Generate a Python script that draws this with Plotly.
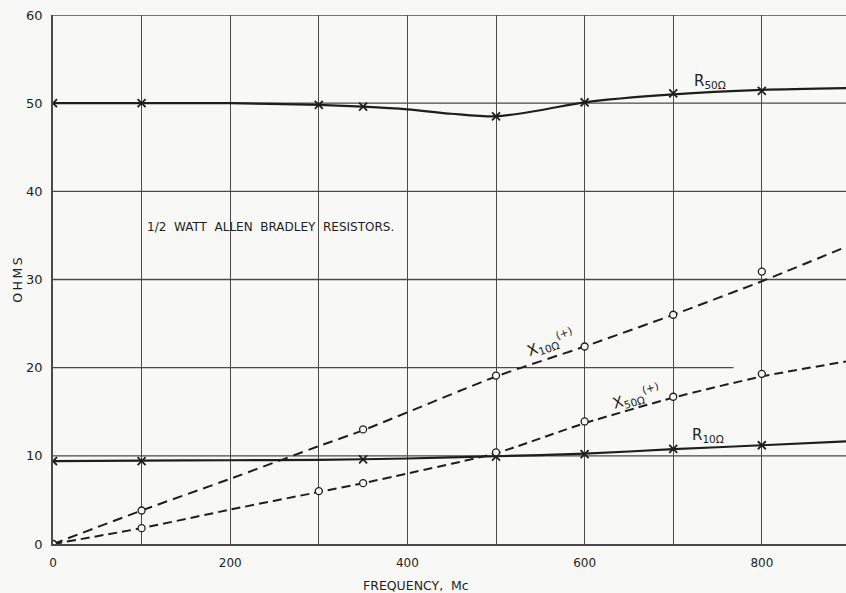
import plotly.graph_objects as go

# ---- data ----
freq_pts_r50 = [0, 100, 300, 350, 500, 600, 700, 800]
r50_pts = [50.0, 50.0, 49.8, 49.6, 48.5, 50.1, 51.1, 51.4]
freq_curve_r50 = [0, 100, 200, 300, 350, 400, 450, 500, 550, 600, 700, 800, 895]
r50_curve = [50.0, 50.0, 50.0, 49.8, 49.6, 49.3, 48.8, 48.5, 49.2, 50.1, 51.0, 51.5, 51.7]

freq_pts_r10 = [0, 100, 350, 500, 600, 700, 800]
r10_pts = [9.4, 9.4, 9.6, 9.9, 10.2, 10.8, 11.2]
freq_curve_r10 = [0, 100, 200, 300, 400, 500, 600, 700, 800, 895]
r10_curve = [9.4, 9.45, 9.5, 9.55, 9.7, 9.95, 10.25, 10.75, 11.2, 11.65]

freq_pts_x10 = [0, 100, 350, 500, 600, 700, 800]
x10_pts = [0.0, 3.8, 13.0, 19.1, 22.4, 26.0, 30.9]
freq_curve_x10 = [0, 100, 200, 300, 350, 500, 600, 700, 800, 895]
x10_curve = [0.0, 3.8, 7.4, 11.1, 12.9, 19.0, 22.4, 26.0, 29.8, 33.7]

freq_pts_x50 = [0, 100, 300, 350, 500, 600, 700, 800]
x50_pts = [0.0, 1.8, 6.0, 6.9, 10.4, 13.9, 16.7, 19.3]
freq_curve_x50 = [0, 100, 200, 300, 350, 400, 500, 600, 700, 800, 895]
x50_curve = [0.0, 1.8, 3.9, 5.9, 6.9, 8.0, 10.3, 13.7, 16.6, 19.0, 20.7]

x_tickvals = [0, 200, 400, 600, 800]
x_ticktext = ["0", "200", "400", "600", "800"]
y_tickvals = [0, 10, 20, 30, 40, 50, 60]
y_ticktext = ["0", "10", "20", "30", "40", "50", "60"]

INK = "#1e1e1e"
GRID = "#4a4a4a"
BG = "#f8f8f6"
FONT = "DejaVu Sans"

fig = go.Figure()

# curves
fig.add_trace(go.Scatter(x=freq_curve_r50, y=r50_curve, mode="lines",
                         line=dict(color=INK, width=2.2, shape="spline", smoothing=0.8)))
fig.add_trace(go.Scatter(x=freq_curve_r10, y=r10_curve, mode="lines",
                         line=dict(color=INK, width=2.2, shape="spline", smoothing=0.8)))
fig.add_trace(go.Scatter(x=freq_curve_x10, y=x10_curve, mode="lines",
                         line=dict(color=INK, width=2, dash="10px,6px", shape="spline", smoothing=0.6)))
fig.add_trace(go.Scatter(x=freq_curve_x50, y=x50_curve, mode="lines",
                         line=dict(color=INK, width=2, dash="9px,5px", shape="spline", smoothing=0.6)))

# measured points
for xs, ys in [(freq_pts_r50, r50_pts), (freq_pts_r10, r10_pts)]:
    fig.add_trace(go.Scatter(x=xs, y=ys, mode="markers",
                             marker=dict(symbol="x-thin", size=8, color=INK,
                                         line=dict(color=INK, width=1.8))))
for xs, ys in [(freq_pts_x10, x10_pts), (freq_pts_x50, x50_pts)]:
    fig.add_trace(go.Scatter(x=xs, y=ys, mode="markers",
                             marker=dict(symbol="circle", size=7, color=BG,
                                         line=dict(color=INK, width=1.3))))

# horizontal grid lines (y=20 line stops short as in the original)
shapes = []
for yv in [10, 30, 40, 50, 60]:
    shapes.append(dict(type="line", xref="paper", yref="y", x0=0, x1=1, y0=yv, y1=yv,
                       line=dict(color=GRID, width=1.3), layer="below"))
shapes.append(dict(type="line", xref="x", yref="y", x0=0, x1=768, y0=20, y1=20,
                   line=dict(color=GRID, width=1.3), layer="below"))


def lab(main, sub, sup=""):
    s = f"{main}<sub>{sub}</sub>"
    if sup:
        s += f"<sup>{sup}</sup>"
    return s


annotations = [
    dict(x=104, y=35.9, xref="x", yref="y", xanchor="left", yanchor="middle",
         text="1/2  WATT  ALLEN  BRADLEY  RESISTORS.", showarrow=False,
         font=dict(family=FONT, size=12, color=INK)),
    dict(x=741, y=52.5, xref="x", yref="y", text=lab("R", "50Ω"), showarrow=False,
         font=dict(family=FONT, size=15, color=INK)),
    dict(x=739, y=12.3, xref="x", yref="y", text=lab("R", "10Ω"), showarrow=False,
         font=dict(family=FONT, size=15, color=INK)),
    dict(x=561, y=22.9, xref="x", yref="y", text=lab("X", "10Ω", "(+)"), showarrow=False,
         textangle=-20, font=dict(family=FONT, size=15, color=INK)),
    dict(x=658, y=16.7, xref="x", yref="y", text=lab("X", "50Ω", "(+)"), showarrow=False,
         textangle=-16, font=dict(family=FONT, size=15, color=INK)),
    dict(x=410, y=-0.078, xref="x", yref="paper", text="FREQUENCY,  Mc", showarrow=False,
         yanchor="middle", font=dict(family=FONT, size=12.5, color=INK)),
    dict(x=-0.045, y=0.5, xref="paper", yref="paper", text="O\u2009H\u2009M\u2009S", showarrow=False,
         textangle=-90, xanchor="center", yanchor="middle",
         font=dict(family=FONT, size=12.5, color=INK)),
]

fig.update_layout(
    width=846, height=593,
    margin=dict(l=53, r=0, t=15, b=49),
    paper_bgcolor=BG, plot_bgcolor=BG,
    showlegend=False,
    shapes=shapes,
    annotations=annotations,
    xaxis=dict(range=[0, 895], tickmode="array", tickvals=x_tickvals, ticktext=x_ticktext,
               showgrid=True, gridcolor=GRID, gridwidth=1.3, zeroline=False,
               minor=dict(dtick=100, tick0=0, showgrid=True, gridcolor=GRID, gridwidth=1.3, ticks=""),
               showline=True, linecolor=GRID, linewidth=1.5, ticks="",
               tickfont=dict(family=FONT, size=12, color=INK), ticklabelstandoff=7),
    yaxis=dict(range=[0, 60], tickmode="array", tickvals=y_tickvals, ticktext=y_ticktext,
               showgrid=False, zeroline=False,
               showline=True, linecolor=GRID, linewidth=1.5, ticks="",
               tickfont=dict(family=FONT, size=13, color=INK), ticklabelstandoff=6),
)

fig.write_html("out.html", config={"displayModeBar": False},
               post_script="document.body.style.margin='0';document.body.style.padding='0';"
                           "document.body.style.overflow='hidden';")
